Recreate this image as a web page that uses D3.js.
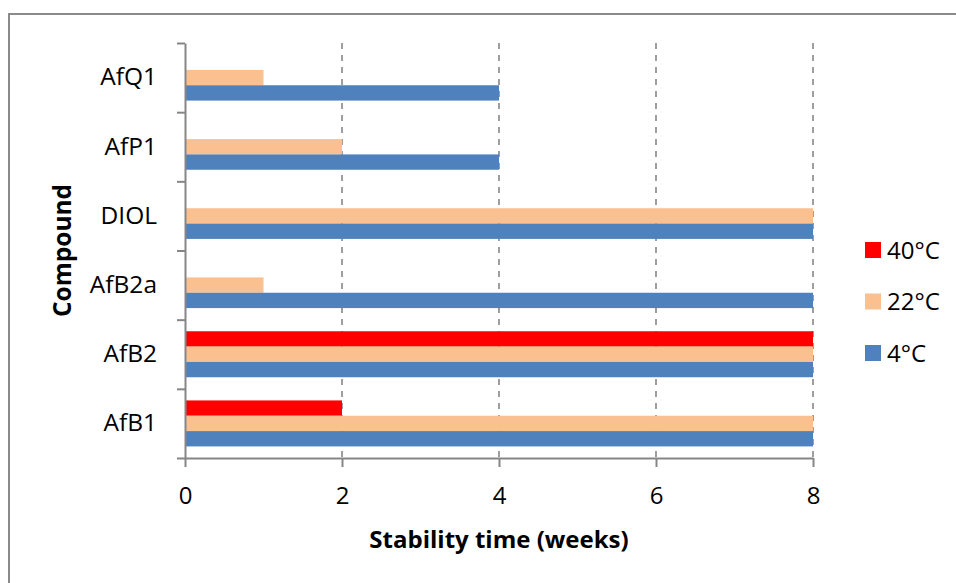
<!DOCTYPE html>
<html>
<head>
<meta charset="utf-8">
<script src="https://cdn.jsdelivr.net/npm/d3@7"></script>
<style>
  html, body { margin: 0; padding: 0; background: #fff; }
  svg { display: block; font-family: "Open Sans", "Noto Sans", sans-serif; }
</style>
</head>
<body>
<svg id="chart" width="956" height="583"></svg>
<script>
// ---- data ----
const categories = ["AfQ1", "AfP1", "DIOL", "AfB2a", "AfB2", "AfB1"]; // top to bottom
const seriesNames = ["40°C", "22°C", "4°C"];
const values40 = [0, 0, 0, 0, 8, 2];
const values22 = [1, 2, 8, 1, 8, 8];
const values4  = [4, 4, 8, 8, 8, 8];
const xTicks = [0, 2, 4, 6, 8];
const colors = ["#FF0000", "#FAC090", "#4F81BD"];
const xTitle = "Stability time (weeks)";
const yTitle = "Compound";

const seriesValues = [values40, values22, values4];

(function () {
// ---- layout ----
const svg = d3.select("#chart");
const pLeft = 185, pRight = 813, pTop = 43, pBottom = 458;
const axisColor = "#868686";

svg.append("rect").attr("x", 0).attr("y", 0).attr("width", 956).attr("height", 583).attr("fill", "#fff");
svg.append("rect").attr("x", 9).attr("y", 14).attr("width", 980).attr("height", 620)
  .attr("fill", "none").attr("stroke", "#8a8a8a").attr("stroke-width", 2);

const x = d3.scaleLinear().domain([0, 8]).range([pLeft, pRight]);
const y = d3.scaleBand().domain(categories).range([pTop, pBottom])
  .paddingInner(0.335).paddingOuter(0.1675);
const ySub = d3.scaleBand().domain(seriesNames).range([0, y.bandwidth()]);

// gridlines
svg.append("g").selectAll("line").data(xTicks.filter(d => d > 0)).join("line")
  .attr("x1", d => x(d)).attr("x2", d => x(d))
  .attr("y1", pTop).attr("y2", pBottom)
  .attr("stroke", axisColor).attr("stroke-width", 1.6)
  .attr("stroke-dasharray", "6,6");

// bars
const barData = [];
categories.forEach((c, i) => {
  seriesNames.forEach((s, j) => {
    barData.push({ cat: c, series: s, value: seriesValues[j][i], color: colors[j] });
  });
});
svg.append("g").selectAll("rect").data(barData.filter(d => d.value > 0)).join("rect")
  .attr("x", x(0))
  .attr("y", d => y(d.cat) + ySub(d.series))
  .attr("width", d => x(d.value) - x(0))
  .attr("height", ySub.bandwidth())
  .attr("fill", d => d.color);

// bottom axis
const xAxis = svg.append("g").attr("transform", `translate(0,${pBottom})`)
  .call(d3.axisBottom(x).tickValues(xTicks).tickSize(9).tickSizeOuter(0).tickPadding(20));
xAxis.select(".domain").attr("stroke", axisColor).attr("stroke-width", 2);
xAxis.selectAll(".tick line").attr("stroke", axisColor).attr("stroke-width", 2);
xAxis.selectAll(".tick text").attr("font-size", 24).attr("fill", "#000")
  .attr("font-family", "\"Open Sans\", sans-serif");

// left axis: boundary ticks
const bounds = d3.range(categories.length + 1);
const yb = d3.scaleLinear().domain([0, categories.length]).range([pTop, pBottom]);
const yAxisB = svg.append("g").attr("transform", `translate(${pLeft},0)`)
  .call(d3.axisLeft(yb).tickValues(bounds).tickSize(8).tickSizeOuter(0).tickFormat(""));
yAxisB.select(".domain").attr("stroke", axisColor).attr("stroke-width", 2);
yAxisB.selectAll(".tick line").attr("stroke", axisColor).attr("stroke-width", 2);

// left axis: category labels
const yAxisL = svg.append("g").attr("transform", `translate(${pLeft},0)`)
  .call(d3.axisLeft(y).tickSize(0).tickPadding(28));
yAxisL.select(".domain").remove();
yAxisL.selectAll(".tick text").attr("font-size", 24.5).attr("fill", "#000")
  .attr("font-family", "\"Open Sans\", sans-serif");

// axis titles
svg.append("text").attr("x", (pLeft + pRight) / 2).attr("y", 548)
  .attr("text-anchor", "middle").attr("font-size", 24).attr("font-weight", "bold")
  .text(xTitle);
svg.append("text").attr("transform", `translate(71,${(pTop + pBottom) / 2}) rotate(-90)`)
  .attr("text-anchor", "middle").attr("font-size", 24.5).attr("font-weight", "bold")
  .text(yTitle);

// legend
const legend = svg.append("g");
const legendY = d3.scalePoint().domain(seriesNames).range([250, 353]);
seriesNames.forEach((s, j) => {
  const cy = legendY(s);
  legend.append("rect").attr("x", 865).attr("y", cy - 8).attr("width", 16).attr("height", 16)
    .attr("fill", colors[j]);
  legend.append("text").attr("x", 887).attr("y", cy).attr("dy", "0.36em")
    .attr("font-size", 24).text(s);
});
})();
</script>
</body>
</html>
